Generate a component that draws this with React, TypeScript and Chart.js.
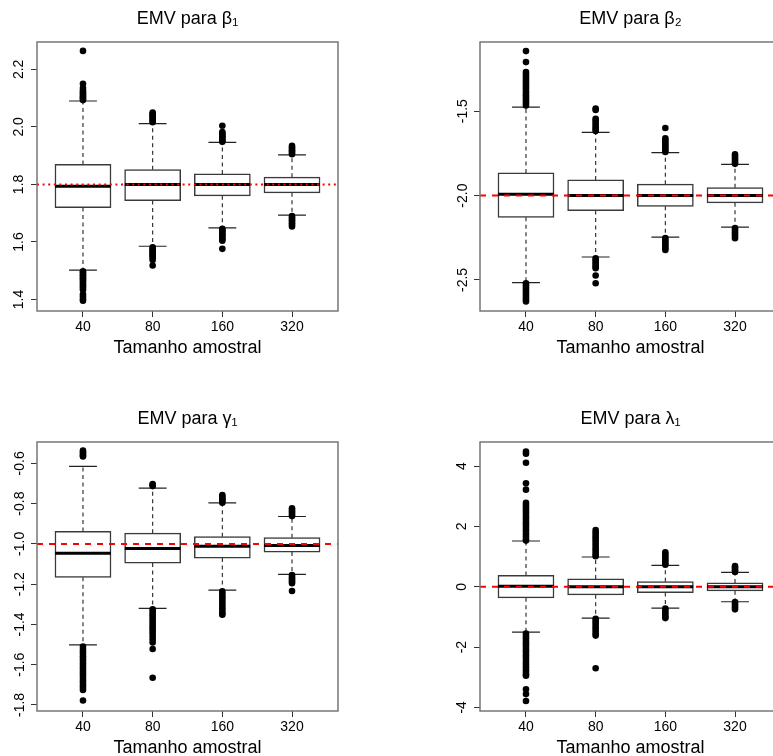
import React, { useEffect, useRef } from 'react';
import { Chart, registerables } from 'chart.js';

Chart.register(...registerables);

// ---------------- data ----------------
const categories = ['40', '80', '160', '320'];
const categoryPositions = [1, 2, 3, 4];
const xAxisTitle = 'Tamanho amostral';

// Panel: beta1
const beta1Title = 'EMV para β₁';
const beta1Ticks = [1.4, 1.6, 1.8, 2.0, 2.2];
const beta1TickLabels = ['1.4', '1.6', '1.8', '2.0', '2.2'];
const beta1Range = [1.36, 2.295];
const beta1True = 1.8;
const beta1Q1 = [1.72, 1.744, 1.761, 1.771];
const beta1Median = [1.794, 1.8, 1.8, 1.8];
const beta1Q3 = [1.869, 1.851, 1.836, 1.825];
const beta1Lower = [1.502, 1.585, 1.649, 1.693];
const beta1Upper = [2.09, 2.011, 1.946, 1.903];
const beta1Out40 = [2.264, 2.15, 2.135, 2.126, 2.121, 2.116, 2.111, 2.106, 2.101, 2.097, 2.093,
  1.498, 1.494, 1.489, 1.484, 1.479, 1.474, 1.469, 1.464, 1.458, 1.452, 1.446, 1.44, 1.434, 1.418, 1.41, 1.402, 1.396];
const beta1Out80 = [2.05, 2.045, 2.04, 2.036, 2.031, 2.026, 2.021, 2.016,
  1.581, 1.576, 1.571, 1.566, 1.561, 1.556, 1.55, 1.544, 1.537, 1.518];
const beta1Out160 = [2.004, 1.982, 1.977, 1.972, 1.967, 1.962, 1.957, 1.952, 1.948,
  1.646, 1.641, 1.636, 1.631, 1.626, 1.621, 1.615, 1.609, 1.604, 1.576];
const beta1Out320 = [1.934, 1.929, 1.924, 1.919, 1.914, 1.909, 1.905,
  1.69, 1.685, 1.68, 1.675, 1.67, 1.665, 1.66, 1.654];

// Panel: beta2
const beta2Title = 'EMV para β₂';
const beta2Ticks = [-2.5, -2.0, -1.5];
const beta2TickLabels = ['-2.5', '-2.0', '-1.5'];
const beta2Range = [-2.684, -1.09];
const beta2True = -2.0;
const beta2Q1 = [-2.128, -2.089, -2.063, -2.043];
const beta2Median = [-1.992, -2.0, -2.0, -2.0];
const beta2Q3 = [-1.866, -1.907, -1.933, -1.953];
const beta2Lower = [-2.516, -2.364, -2.246, -2.187];
const beta2Upper = [-1.476, -1.626, -1.746, -1.815];
const beta2Out40 = [-1.144, -1.209, -1.268, -1.28, -1.292, -1.305, -1.318, -1.33, -1.342, -1.355, -1.367,
  -1.38, -1.392, -1.405, -1.418, -1.43, -1.442, -1.455, -1.467,
  -2.52, -2.532, -2.545, -2.557, -2.57, -2.582, -2.594, -2.606, -2.618, -2.628];
const beta2Out80 = [-1.484, -1.493, -1.545, -1.557, -1.57, -1.582, -1.595, -1.607, -1.618,
  -2.372, -2.384, -2.396, -2.408, -2.42, -2.43, -2.474, -2.52];
const beta2Out160 = [-1.6, -1.66, -1.672, -1.684, -1.696, -1.708, -1.72, -1.732, -1.742,
  -2.252, -2.264, -2.276, -2.288, -2.3, -2.312, -2.322];
const beta2Out320 = [-1.756, -1.768, -1.78, -1.792, -1.804, -1.812,
  -2.193, -2.205, -2.217, -2.229, -2.241, -2.253];

// Panel: gamma1
const gamma1Title = 'EMV para γ₁';
const gamma1Ticks = [-1.8, -1.6, -1.4, -1.2, -1.0, -0.8, -0.6];
const gamma1TickLabels = ['-1.8', '-1.6', '-1.4', '-1.2', '-1.0', '-0.8', '-0.6'];
const gamma1Range = [-1.83, -0.494];
const gamma1True = -1.0;
const gamma1Q1 = [-1.166, -1.095, -1.07, -1.04];
const gamma1Median = [-1.046, -1.023, -1.012, -1.008];
const gamma1Q3 = [-0.939, -0.947, -0.964, -0.97];
const gamma1Lower = [-1.502, -1.32, -1.23, -1.151];
const gamma1Upper = [-0.615, -0.723, -0.796, -0.864];
const gamma1Out40 = [-0.537, -0.545, -0.553, -0.561, -0.566,
  -1.51, -1.522, -1.534, -1.546, -1.558, -1.57, -1.582, -1.594, -1.606, -1.618, -1.63, -1.642,
  -1.654, -1.666, -1.678, -1.69, -1.702, -1.714, -1.726, -1.778];
const gamma1Out80 = [-0.703, -0.708, -0.713,
  -1.325, -1.337, -1.349, -1.361, -1.373, -1.385, -1.397, -1.409, -1.421, -1.433, -1.445,
  -1.46, -1.475, -1.49, -1.522, -1.665];
const gamma1Out160 = [-0.757, -0.765, -0.773, -0.781, -0.789, -0.796,
  -1.236, -1.248, -1.26, -1.272, -1.284, -1.296, -1.308, -1.32, -1.332, -1.344, -1.352];
const gamma1Out320 = [-0.823, -0.831, -0.839, -0.847, -0.855, -0.862,
  -1.155, -1.163, -1.171, -1.179, -1.187, -1.195, -1.234];

// Panel: lambda1
const lambda1Title = 'EMV para λ₁';
const lambda1Ticks = [-4, -2, 0, 2, 4];
const lambda1TickLabels = ['-4', '-2', '0', '2', '4'];
const lambda1Range = [-4.12, 4.8];
const lambda1True = 0;
const lambda1Q1 = [-0.365, -0.266, -0.188, -0.133];
const lambda1Median = [0.02, 0.0, 0.0, 0.0];
const lambda1Q3 = [0.375, 0.255, 0.166, 0.122];
const lambda1Lower = [-1.505, -1.04, -0.708, -0.498];
const lambda1Upper = [1.518, 0.986, 0.708, 0.475];
const lambda1Out40 = [4.485, 4.41, 4.11, 3.43, 3.22, 2.78, 2.7, 2.62, 2.54, 2.46, 2.38, 2.3, 2.22,
  2.14, 2.06, 1.98, 1.9, 1.82, 1.74, 1.66, 1.58, 1.53,
  -1.55, -1.63, -1.71, -1.79, -1.87, -1.95, -2.03, -2.11, -2.19, -2.27, -2.35, -2.43, -2.51,
  -2.59, -2.67, -2.75, -2.83, -2.9, -2.95, -3.4, -3.56, -3.79];
const lambda1Out80 = [1.88, 1.8, 1.72, 1.64, 1.56, 1.48, 1.4, 1.32, 1.24, 1.16, 1.08, 1.01,
  -1.06, -1.14, -1.22, -1.3, -1.38, -1.46, -1.54, -1.62, -2.7];
const lambda1Out160 = [1.14, 1.07, 1.0, 0.93, 0.86, 0.79, 0.73,
  -0.72, -0.79, -0.86, -0.93, -1.0, -1.04];
const lambda1Out320 = [0.69, 0.64, 0.59, 0.54, 0.49,
  -0.51, -0.57, -0.63, -0.69, -0.75];

// ---------------- layout / style ----------------
const FONT = "'Liberation Sans', Arial, Helvetica, sans-serif";
const CANVAS_W = 443;
const CANVAS_H = 400;
const X_MIN = 0.34;
const X_MAX = 4.66;
const BOX_HALF = 0.4;
const CAP_HALF = 0.2;

type PanelDef = {
  title: string; ticks: number[]; tickLabels: string[]; range: number[]; truth: number;
  q1: number[]; median: number[]; q3: number[]; lower: number[]; upper: number[];
  outliers: number[][]; refDash: number[]; left: number; top: number; yTickPad: number;
};

const panels: PanelDef[] = [
  { title: beta1Title, ticks: beta1Ticks, tickLabels: beta1TickLabels, range: beta1Range, truth: beta1True,
    q1: beta1Q1, median: beta1Median, q3: beta1Q3, lower: beta1Lower, upper: beta1Upper,
    outliers: [beta1Out40, beta1Out80, beta1Out160, beta1Out320], refDash: [2, 3.6], left: 0, top: 0, yTickPad: 2.5 },
  { title: beta2Title, ticks: beta2Ticks, tickLabels: beta2TickLabels, range: beta2Range, truth: beta2True,
    q1: beta2Q1, median: beta2Median, q3: beta2Q3, lower: beta2Lower, upper: beta2Upper,
    outliers: [beta2Out40, beta2Out80, beta2Out160, beta2Out320], refDash: [6, 6], left: 443, top: 0, yTickPad: -1.3 },
  { title: gamma1Title, ticks: gamma1Ticks, tickLabels: gamma1TickLabels, range: gamma1Range, truth: gamma1True,
    q1: gamma1Q1, median: gamma1Median, q3: gamma1Q3, lower: gamma1Lower, upper: gamma1Upper,
    outliers: [gamma1Out40, gamma1Out80, gamma1Out160, gamma1Out320], refDash: [6, 6], left: 0, top: 400, yTickPad: -1 },
  { title: lambda1Title, ticks: lambda1Ticks, tickLabels: lambda1TickLabels, range: lambda1Range, truth: lambda1True,
    q1: lambda1Q1, median: lambda1Median, q3: lambda1Q3, lower: lambda1Lower, upper: lambda1Upper,
    outliers: [lambda1Out40, lambda1Out80, lambda1Out160, lambda1Out320], refDash: [6, 6], left: 443, top: 400, yTickPad: 6 },
];

const framePlugin = {
  id: 'frameBox',
  afterDatasetsDraw(chart: any) {
    const { ctx, chartArea: a } = chart;
    ctx.save();
    ctx.strokeStyle = '#777';
    ctx.lineWidth = 1.5;
    ctx.strokeRect(a.left, a.top, a.right - a.left, a.bottom - a.top);
    ctx.restore();
  },
};

function buildConfig(p: PanelDef): any {
  const boxData = categoryPositions.map((x, i) => ({ x, y: [p.q1[i], p.q3[i]] }));
  const whiskerData: any[] = [];
  const capData: any[] = [];
  const medianData: any[] = [];
  categoryPositions.forEach((x, i) => {
    whiskerData.push({ x, y: p.q3[i] }, { x, y: p.upper[i] }, { x, y: null });
    whiskerData.push({ x, y: p.q1[i] }, { x, y: p.lower[i] }, { x, y: null });
    capData.push({ x: x - CAP_HALF, y: p.upper[i] }, { x: x + CAP_HALF, y: p.upper[i] }, { x: x + CAP_HALF, y: null });
    capData.push({ x: x - CAP_HALF, y: p.lower[i] }, { x: x + CAP_HALF, y: p.lower[i] }, { x: x + CAP_HALF, y: null });
    medianData.push({ x: x - BOX_HALF, y: p.median[i] }, { x: x + BOX_HALF, y: p.median[i] }, { x: x + BOX_HALF, y: null });
  });
  const outlierData = p.outliers.flatMap((arr, i) => arr.map((v) => ({ x: categoryPositions[i], y: v })));
  const refData = [{ x: X_MIN, y: p.truth }, { x: X_MAX, y: p.truth }];

  const lineBase = { type: 'line', pointRadius: 0, fill: false, spanGaps: false, tension: 0 };

  return {
    type: 'scatter',
    data: {
      datasets: [
        { ...lineBase, data: refData, borderColor: '#ff0000', borderWidth: 2, borderDash: p.refDash, order: 0 },
        { type: 'scatter', data: outlierData, pointRadius: 3.3, pointBackgroundColor: '#000', backgroundColor: '#000',
          pointBorderWidth: 0, borderWidth: 0, borderColor: '#000', order: 1 },
        { ...lineBase, data: medianData, borderColor: '#000', borderWidth: 3, borderCapStyle: 'butt', order: 2 },
        { type: 'bar', data: boxData, backgroundColor: '#ffffff', borderColor: '#3a3a3a', borderWidth: 1.5,
          borderSkipped: false, categoryPercentage: 1, barPercentage: 0.8, inflateAmount: 0.5, order: 3 },
        { ...lineBase, data: capData, borderColor: '#222', borderWidth: 1.2, order: 4 },
        { ...lineBase, data: whiskerData, borderColor: '#222', borderWidth: 1.1, borderDash: [4, 3.5], order: 5 },
      ],
    },
    options: {
      animation: false,
      responsive: false,
      devicePixelRatio: 1,
      events: [],
      layout: { padding: { left: 0, right: 105, top: 0, bottom: 0 } },
      plugins: {
        legend: { display: false },
        tooltip: { enabled: false },
        title: {
          display: true, text: p.title, color: '#000', fullSize: false,
          font: { family: FONT, size: 18, weight: 'normal', lineHeight: 1.2 },
          padding: { top: 8, bottom: 12.4 },
        },
      },
      scales: {
        x: {
          type: 'linear', min: X_MIN, max: X_MAX, offset: false,
          afterBuildTicks: (scale: any) => { scale.ticks = categoryPositions.map((v) => ({ value: v })); },
          afterFit: (scale: any) => { scale.height = 89; },
          grid: { offset: false, drawOnChartArea: false, drawTicks: true, tickLength: 6, color: '#333', lineWidth: 1 },
          border: { display: false },
          ticks: {
            autoSkip: false, maxRotation: 0, minRotation: 0, padding: 1.5, color: '#000',
            font: { family: FONT, size: 14 },
            callback: (v: number) => categories[categoryPositions.indexOf(v)] ?? '',
          },
          title: {
            display: true, text: xAxisTitle, color: '#000',
            font: { family: FONT, size: 18, lineHeight: 1.2 },
            padding: { top: 0, bottom: 41.4 },
          },
        },
        y: {
          type: 'linear', min: p.range[0], max: p.range[1], offset: false,
          afterBuildTicks: (scale: any) => { scale.ticks = p.ticks.map((v) => ({ value: v })); },
          afterFit: (scale: any) => { scale.width = 37; },
          grid: { offset: false, drawOnChartArea: false, drawTicks: true, tickLength: 6, color: '#333', lineWidth: 1 },
          border: { display: false },
          ticks: {
            autoSkip: false, minRotation: 90, maxRotation: 90, crossAlign: 'center', padding: p.yTickPad,
            color: '#000', font: { family: FONT, size: 14 },
            callback: (v: number) => p.tickLabels[p.ticks.indexOf(v)] ?? '',
          },
        },
      },
    },
    plugins: [framePlugin],
  };
}

function Panel({ p }: { p: PanelDef }) {
  const ref = useRef<HTMLCanvasElement>(null);
  useEffect(() => {
    const chart = new Chart(ref.current as HTMLCanvasElement, buildConfig(p));
    return () => chart.destroy();
  }, [p]);
  return (
    <canvas
      ref={ref}
      width={CANVAS_W}
      height={CANVAS_H}
      style={{ position: 'absolute', left: p.left, top: p.top, width: CANVAS_W, height: CANVAS_H }}
    />
  );
}

export default function App() {
  return (
    <div style={{ position: 'absolute', left: 0, top: 0, width: 773, height: 756, overflow: 'hidden', background: '#fff' }}>
      {panels.map((p, i) => <Panel key={i} p={p} />)}
    </div>
  );
}
